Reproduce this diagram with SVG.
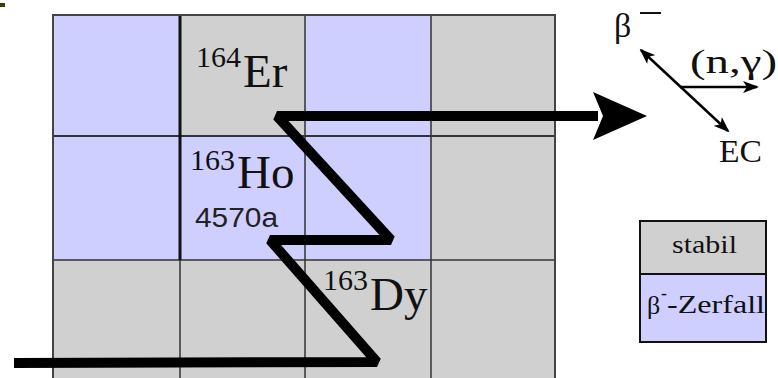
<svg xmlns="http://www.w3.org/2000/svg" width="778" height="378" viewBox="0 0 778 378">
<defs>
<marker id="ah" markerWidth="16" markerHeight="12" refX="14" refY="6" orient="auto-start-reverse" markerUnits="userSpaceOnUse">
<path d="M0,0 L16,6 L0,12 L4,6 Z" fill="#000"/>
</marker>
</defs>
<style>
.blue{fill:#CFCFFF}
.gray{fill:#D0D0D0}
.grid{stroke:#333;stroke-width:1.5;fill:none}
.serif{font-family:"Liberation Serif","Times New Roman",serif;fill:#111}
.sans{font-family:"Liberation Sans",Arial,sans-serif;fill:#222}
.thin{stroke:#000;stroke-width:2.5;fill:none}
</style>
<rect width="778" height="378" fill="#fff"/>
<rect x="0" y="3" width="5" height="4" fill="#3b3b12"/>
<g id="chart">
<rect class="blue" x="53" y="15" width="127" height="121"/>
<rect class="gray" x="180" y="15" width="125" height="121"/>
<rect class="blue" x="305" y="15" width="126" height="121"/>
<rect class="gray" x="431" y="15" width="124" height="121"/>
<rect class="blue" x="53" y="136" width="378" height="124"/>
<rect class="gray" x="431" y="136" width="124" height="124"/>
<rect class="gray" x="53" y="260" width="502" height="118"/>
<path class="grid" d="M305,15 V378 M431,15 V378 M180,260 V378 M53,260 H555"/>
<path d="M53,136 H555" stroke="#333" stroke-width="2.2"/>
<path d="M180,15 V260" stroke="#111" stroke-width="3"/>
<path d="M53,378 V15 H555 V378" stroke="#444" stroke-width="2" fill="none"/>
</g>
<g id="er164">
<text class="serif" x="196" y="67" font-size="30">164</text>
<text class="serif" x="243" y="87" font-size="47">Er</text>
</g>
<g id="ho163">
<text class="serif" x="190" y="170" font-size="30">163</text>
<text class="serif" x="237" y="188" font-size="47">Ho</text>
<text class="sans" x="195" y="227" font-size="27" textLength="83" lengthAdjust="spacingAndGlyphs">4570a</text>
</g>
<g id="dy163">
<text class="serif" x="323" y="290" font-size="30">163</text>
<text class="serif" x="370" y="310" font-size="47">Dy</text>
</g>
<g id="connectors">
<path d="M14,363 L377,362 L270,240 L391,240 L277,116 L598,116" stroke="#000" stroke-width="10" fill="none" stroke-linejoin="miter" stroke-miterlimit="2"/>
<path d="M647,116 L593,92 L603,116 L593,140 Z" fill="#000"/>
<line class="thin" x1="641" y1="50" x2="728" y2="131" marker-start="url(#ah)" marker-end="url(#ah)"/>
<line class="thin" x1="680" y1="87" x2="757" y2="87" marker-end="url(#ah)"/>
</g>
<g id="legend-decay">
<text class="serif" x="614" y="37" font-size="34">β</text>
<path d="M640,13 H661" stroke="#111" stroke-width="2"/>
<text class="serif" x="690" y="73" font-size="34" textLength="87" lengthAdjust="spacingAndGlyphs">(n,γ)</text>
<text class="serif" x="719" y="162" font-size="31" textLength="43" lengthAdjust="spacingAndGlyphs">EC</text>
</g>
<g id="legend-stabil">
<rect x="640" y="221" width="126" height="53" class="gray" stroke="#111" stroke-width="2"/>
<text class="serif" x="672" y="253" font-size="26" textLength="65" lengthAdjust="spacingAndGlyphs">stabil</text>
</g>
<g id="legend-beta">
<rect x="640" y="274" width="126" height="68" class="blue" stroke="#111" stroke-width="2"/>
<text class="serif" x="647" y="314" font-size="26">β</text>
<text class="serif" x="661" y="299" font-size="18">-</text>
<text class="serif" x="667" y="313" font-size="26" textLength="98" lengthAdjust="spacingAndGlyphs">-Zerfall</text>
</g>
</svg>
